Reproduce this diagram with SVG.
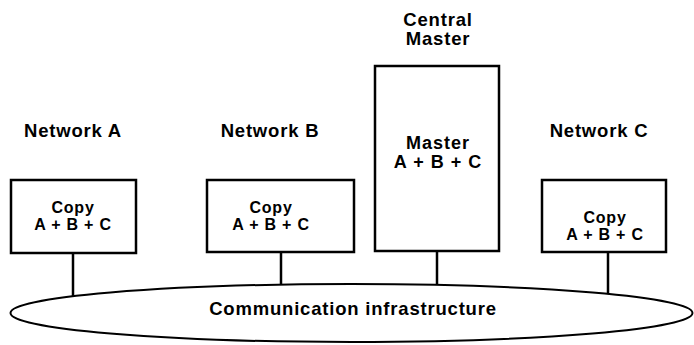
<svg xmlns="http://www.w3.org/2000/svg" width="694" height="345" viewBox="0 0 694 345">
  <style>
    .box { fill: #fff; stroke: #000; stroke-width: 2.5; }
    .bus { fill: #fff; stroke: #000; stroke-width: 2; }
    .link { stroke: #000; stroke-width: 2.5; fill: none; }
    text { font-family: "Liberation Sans", Arial, sans-serif; font-weight: bold; fill: #000; text-anchor: middle; }
    .lbl { font-size: 18.5px; letter-spacing: 0.8px; }
    .mid { font-size: 18px; letter-spacing: 1px; }
    .inner { font-size: 16px; letter-spacing: 0.8px; }
  </style>
  <rect width="694" height="345" fill="#fff"/>

  <!-- connectors from each node down to the shared bus -->
  <g id="connectors">
    <line class="link" x1="73" y1="253" x2="73" y2="296"/>
    <line class="link" x1="281" y1="252" x2="281" y2="288"/>
    <line class="link" x1="437" y1="251" x2="437" y2="285"/>
    <line class="link" x1="608" y1="252" x2="608" y2="294"/>
  </g>

  <g id="bus">
    <ellipse class="bus" cx="351.5" cy="313" rx="341" ry="29"/>
    <text class="lbl" x="353" y="315">Communication infrastructure</text>
  </g>

  <g id="network-a">
    <text class="lbl" x="73" y="137">Network A</text>
    <rect class="box" x="11" y="180" width="125" height="73"/>
    <text class="inner" x="73" y="213">Copy</text>
    <text class="inner" x="73" y="230">A + B + C</text>
  </g>

  <g id="network-b">
    <text class="lbl" x="270" y="137">Network B</text>
    <rect class="box" x="207" y="180" width="147" height="72"/>
    <text class="inner" x="271" y="213">Copy</text>
    <text class="inner" x="271" y="230">A + B + C</text>
  </g>

  <g id="central-master">
    <text class="lbl" x="438" y="26">Central</text>
    <text class="lbl" x="438" y="45">Master</text>
    <rect class="box" x="375" y="66" width="124" height="185"/>
    <text class="mid" x="438" y="149">Master</text>
    <text class="mid" x="438" y="168">A + B + C</text>
  </g>

  <g id="network-c">
    <text class="lbl" x="599" y="137">Network C</text>
    <rect class="box" x="542" y="180" width="124" height="72"/>
    <text class="inner" x="605" y="223">Copy</text>
    <text class="inner" x="605" y="240">A + B + C</text>
  </g>
</svg>
